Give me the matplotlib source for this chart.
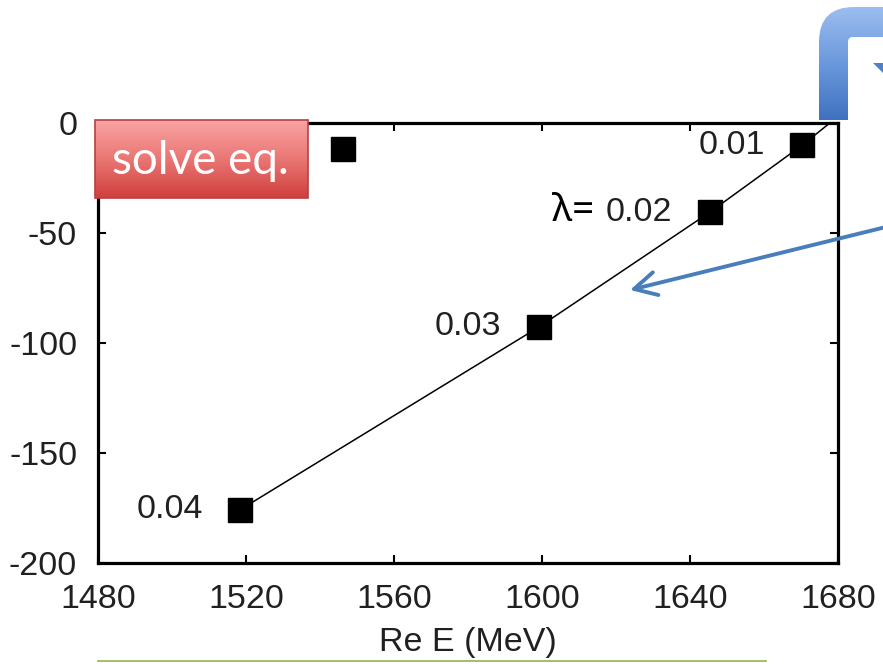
import numpy as np
import matplotlib
matplotlib.use('Agg')
import matplotlib.pyplot as plt
from matplotlib.colors import LinearSegmentedColormap
from matplotlib.patches import Rectangle, PathPatch
from matplotlib.path import Path

# pole positions along the lambda trajectory (Re E, Im E) in MeV
lam_labels = ['0.01', '0.02', '0.03', '0.04']
re_e = [1670.4, 1645.4, 1599.2, 1518.5]
im_e = [-10, -40.5, -92.7, -175.7]

# trajectory curve, running up to lambda = 0 on the real axis
curve_re = [1518.5, 1599.2, 1645.4, 1670.4, 1677.8]
curve_im = [-175.7, -92.7, -40.5, -10, 0]

# isolated solution
extra_re = [1546.2]
extra_im = [-11.8]

xticks = [1480, 1520, 1560, 1600, 1640, 1680]
yticks = [0, -50, -100, -150, -200]

plt.rcParams['axes.unicode_minus'] = False

W, H = 883, 664
fig = plt.figure(figsize=(W / 100, H / 100), dpi=100)
ax = fig.add_axes([98 / W, 1 - 563 / H, (838 - 98) / W, (563 - 123) / H])

txt = '#202020'
fs = 24.5
ax.plot(curve_re, curve_im, color='black', lw=1.1, zorder=2)
ax.plot(re_e, im_e, 's', color='black', ms=17, zorder=3)
ax.plot(extra_re, extra_im, 's', color='black', ms=17, zorder=3)

for lab, x, y in zip(lam_labels, re_e, im_e):
    ax.annotate(lab, (x, y), xytext=(-27, 0), textcoords='offset points',
                ha='right', va='center', fontsize=fs, color=txt,
                family='Liberation Sans')
ax.annotate('λ=', (re_e[1], im_e[1]), xytext=(-83, 1), textcoords='offset points',
            ha='right', va='center', fontsize=28, color='black',
            family=['Noto Sans', 'DejaVu Sans'])

ax.set_xlim(1480, 1680)
ax.set_ylim(-200, 0)
ax.set_xticks(xticks)
ax.set_yticks(yticks)
ax.tick_params(direction='in', top=True, right=True, length=6, width=1.5,
               labelsize=fs, labelcolor=txt)
ax.tick_params(axis='x', pad=15)
ax.tick_params(axis='y', pad=15)
for t in ax.get_xticklabels() + ax.get_yticklabels():
    t.set_family('Liberation Sans')
for s in ax.spines.values():
    s.set_linewidth(2.3)
ax.set_xlabel('Re E (MeV)', fontsize=fs, color=txt, family='Liberation Sans',
              labelpad=9)

# overlay in pixel coordinates for the slide shapes
ov = fig.add_axes([0, 0, 1, 1], zorder=5)
ov.set_xlim(0, W)
ov.set_ylim(H, 0)
ov.set_axis_off()
ov.patch.set_alpha(0)

# red "solve eq." button
grad = np.linspace(0, 1, 100).reshape(-1, 1)
reds = LinearSegmentedColormap.from_list('reds', ['#f8a4a3', '#ea7674', '#cf403e'])
ov.imshow(grad, cmap=reds, extent=(95, 308, 198, 120), aspect='auto', zorder=1)
ov.add_patch(Rectangle((95, 120), 213, 78, fill=False, ec='#b8403e', lw=1.2, zorder=2))
ov.text(200, 174, 'solve eq.', color='white', fontsize=33, family='Lato',
        ha='center', va='baseline', zorder=3)

# blue bracket arrow body at top right
verts = [(819, 120), (819, 42), (819, 7), (854, 7), (885, 7), (885, 37),
         (853, 37), (848, 37), (848, 42), (848, 120), (819, 120)]
codes = [Path.MOVETO, Path.LINETO, Path.CURVE3, Path.CURVE3, Path.LINETO,
         Path.LINETO, Path.LINETO, Path.CURVE3, Path.CURVE3, Path.LINETO,
         Path.CLOSEPOLY]
bracket = PathPatch(Path(verts, codes), fc='none', ec='none')
ov.add_patch(bracket)
blues = LinearSegmentedColormap.from_list('blues', ['#9bbdf0', '#6b98dc', '#3f72bf'])
im = ov.imshow(grad, cmap=blues, extent=(819, 885, 120, 7), aspect='auto', zorder=1)
im.set_clip_path(bracket)
ov.add_patch(plt.Polygon([(873, 63), (884, 63), (884, 74)], closed=True,
                         fc='#4f81c8', ec='none'))

# blue pointer arrow to the trajectory
ov.annotate('', xy=(630, 290), xytext=(890, 226),
            arrowprops=dict(arrowstyle='->,head_length=0.8,head_width=0.42',
                            color='#4a7ebb', lw=2.8, mutation_scale=20,
                            shrinkA=0, shrinkB=0))

# slide divider line
ov.plot([98, 766], [661, 661], color='#9bbb59', lw=1.3)

fig.savefig('out.png', dpi=100)
